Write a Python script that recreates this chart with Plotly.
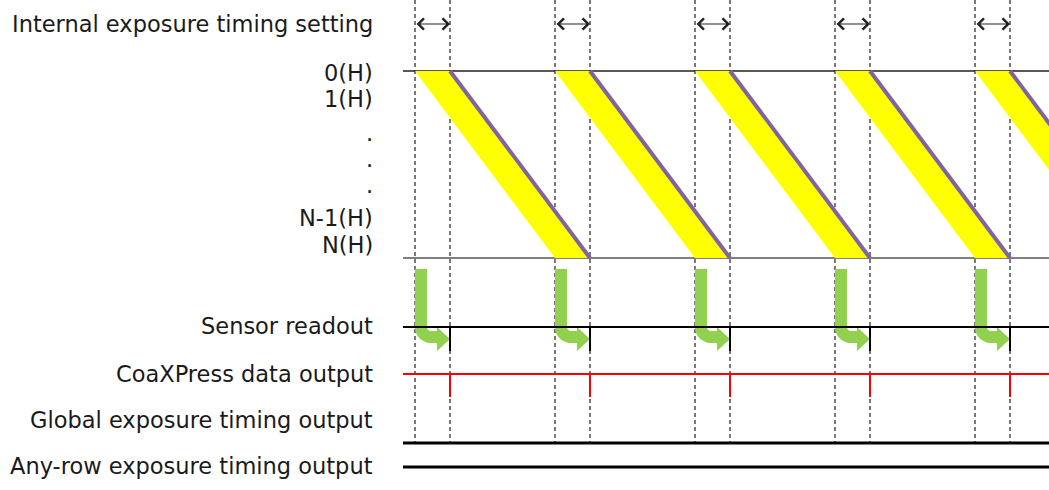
import numpy as np
import plotly.graph_objects as go

# timing values (arbitrary time units)
frame_starts = [0, 4, 8, 12, 16]
exposure_time = 1.0
readout_time = 4.0

signal_labels = ["Internal exposure timing setting", "Sensor readout", "CoaXPress data output",
                 "Global exposure timing output", "Any-row exposure timing output"]
row_labels = ["0(H)", "1(H)", ".", ".", ".", "N-1(H)", "N(H)"]

W, H = 1049, 490
PX = 35.0          # pixels per time unit
X0 = 415.0         # pixel of t = 0
t_left = (403 - X0) / PX
t_right = (W - X0) / PX

# vertical layout (pixel rows)
y_arrow = 24
y_top, y_bot = 71, 258
y_sensor, y_coax, y_global, y_any = 327, 374, 443, 467
FONT = "DejaVu Sans"
FS = 22.5
DASH = "#404040"
GREEN = "#92D050"

fig = go.Figure()

# dashed guides
for s in frame_starts:
    for t in (s, s + exposure_time):
        fig.add_shape(type="line", x0=t, x1=t, y0=0, y1=y_global,
                      line=dict(color=DASH, width=1.4, dash="4px,3px"), layer="below")

# row lines of the sensor area
for y, c in ((y_top, "#222222"), (y_bot, "#555555")):
    fig.add_trace(go.Scatter(x=[t_left, t_right], y=[y, y], mode="lines",
                             line=dict(color=c, width=1.3), hoverinfo="skip"))

# rolling exposure bands
for s in frame_starts:
    e = s + exposure_time
    fig.add_trace(go.Scatter(
        x=[s, e, e + readout_time, s + readout_time, s],
        y=[y_top, y_top, y_bot, y_bot, y_top],
        mode="lines", fill="toself", fillcolor="#FFFF00",
        line=dict(width=0), hoverinfo="skip"))
    fig.add_trace(go.Scatter(x=[e, e + readout_time], y=[y_top, y_bot], mode="lines",
                             line=dict(color="#8064A2", width=4), hoverinfo="skip"))

# green readout arrows (outline in pixel offsets from the frame start)
th = np.linspace(np.pi, np.pi / 2, 16)
outer_x = 16 + 16 * np.cos(th)
outer_y = 327 + 16 * np.sin(th)
inner_x = 16 + 4 * np.cos(th[::-1])
inner_y = 327 + 4 * np.sin(th[::-1])
arrow_dx = np.concatenate([[0], outer_x, [22, 22, 35, 22, 22], inner_x, [12, 0]])
arrow_y = np.concatenate([[269], outer_y, [343, 351, 339, 327, 331], inner_y, [269, 269]])
for s in frame_starts:
    fig.add_trace(go.Scatter(x=s + arrow_dx / PX, y=arrow_y, mode="lines", fill="toself",
                             fillcolor=GREEN, line=dict(width=0, simplify=False), hoverinfo="skip"))

# signal lines
sig = [(y_sensor, "black", 2), (y_coax, "#FF0000", 2), (y_global, "black", 3), (y_any, "black", 3)]
for y, c, w in sig:
    fig.add_trace(go.Scatter(x=[t_left, t_right], y=[y, y], mode="lines",
                             line=dict(color=c, width=w), hoverinfo="skip"))

# output pulses at end of exposure of row 0
for s in frame_starts:
    t = s + exposure_time
    fig.add_trace(go.Scatter(x=[t, t], y=[y_sensor, y_sensor + 24], mode="lines",
                             line=dict(color="black", width=2), hoverinfo="skip"))
    fig.add_trace(go.Scatter(x=[t, t], y=[y_coax, y_coax + 23], mode="lines",
                             line=dict(color="#FF0000", width=2), hoverinfo="skip"))

# exposure-time arrows
for s in frame_starts:
    fig.add_annotation(x=s + exposure_time, y=y_arrow, ax=s, ay=y_arrow, axref="x", ayref="y",
                       text="", showarrow=True, arrowside="end+start", arrowhead=4,
                       arrowsize=2.0, arrowwidth=1.1, arrowcolor="#222222",
                       standoff=0, startstandoff=0)

# labels
lx = 375 / W
label_y = [24, 326, 374, 420, 466]
for txt, y in zip(signal_labels, label_y):
    fig.add_annotation(x=lx, y=y, xref="paper", yref="y", text=txt, showarrow=False,
                       xanchor="right", yanchor="middle", font=dict(family=FONT, size=FS, color="#1a1a1a"))
row_y = [73, 99, 133, 159, 185, 218, 245]
for txt, y in zip(row_labels, row_y):
    fig.add_annotation(x=lx, y=y, xref="paper", yref="y", text=txt, showarrow=False,
                       xanchor="right", yanchor="middle",
                       font=dict(family=FONT, size=FS, color="#1a1a1a"))

fig.update_xaxes(range=[-X0 / PX, t_right], visible=False, fixedrange=True)
fig.update_yaxes(range=[H, 0], visible=False, fixedrange=True)
fig.update_layout(width=W, height=H, margin=dict(l=0, r=0, t=0, b=0),
                  plot_bgcolor="white", paper_bgcolor="white", showlegend=False)

fig.write_html("out.html", config={"displayModeBar": False},
               post_script="document.body.style.margin='0';document.body.style.overflow='hidden';")
